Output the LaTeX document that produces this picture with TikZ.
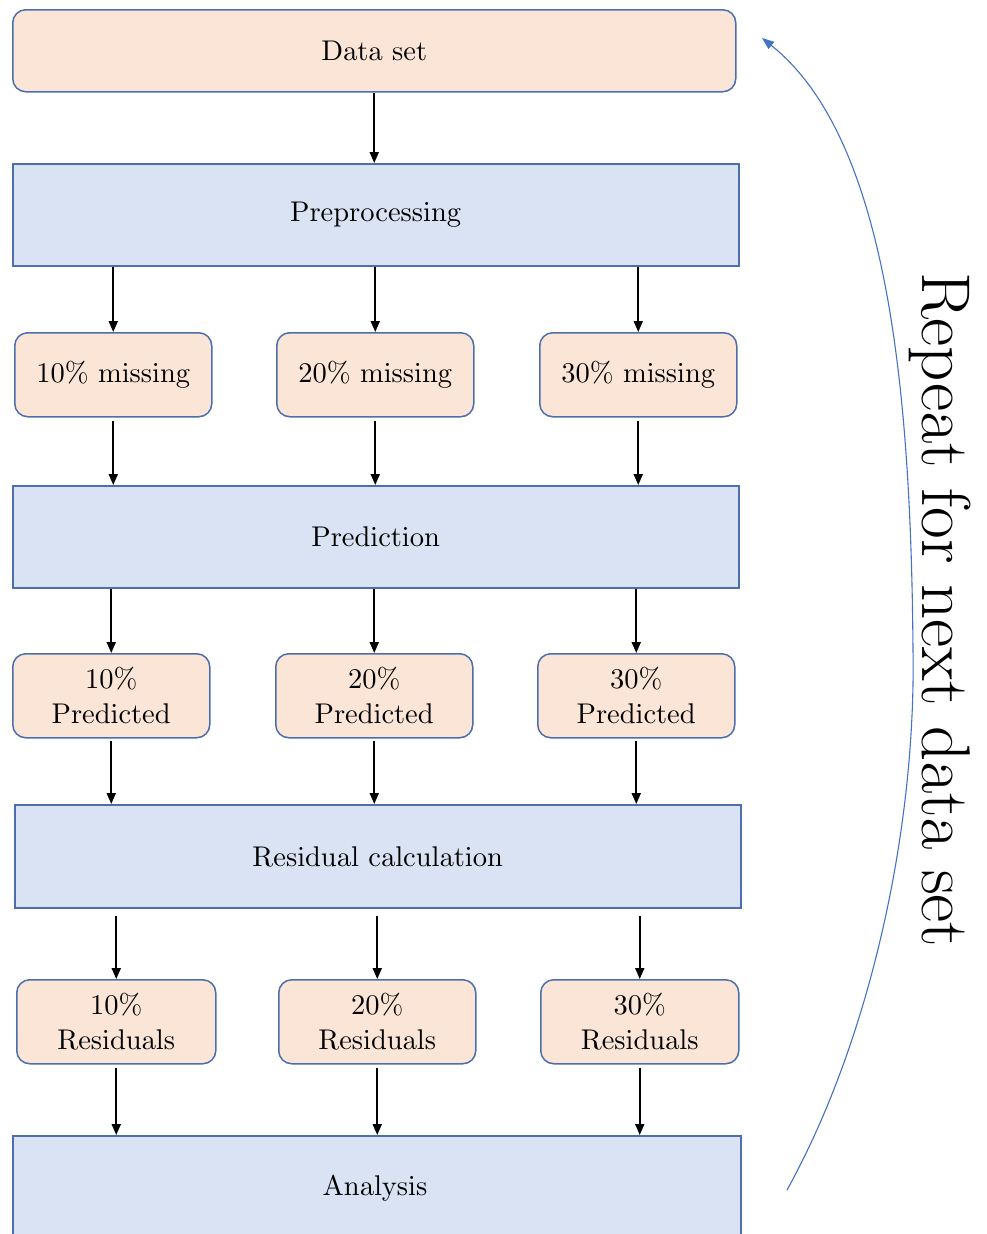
\documentclass[tikz,border=0pt]{standalone}
\usetikzlibrary{arrows.meta}
\font\boxfnt=cmr10 at 28.5pt
\font\repfnt=cmr17 at 69pt
\definecolor{peach}{HTML}{FBE5D6}
\definecolor{lblue}{HTML}{DAE3F3}
\definecolor{bord}{RGB}{76,110,172}
\definecolor{curveblue}{RGB}{68,114,196}
\begin{document}
\begin{tikzpicture}[x=1pt,y=-1pt,
  txt/.style={font=\fontsize{28.5}{35}\selectfont\boxfnt, align=center, inner sep=0pt},
  pbox/.style={txt, draw=bord, line width=1.5pt, fill=peach, rounded corners=13pt, anchor=north west},
  bbox/.style={txt, draw=bord, line width=1.5pt, fill=lblue, anchor=north west},
  arr/.style={draw=black, line width=2pt, -{Triangle[length=11pt,width=9pt]}},
  loop/.style={draw=curveblue, line width=1.1pt, -{Triangle[length=12pt,width=9pt]}}]
\useasboundingbox (0,0) rectangle (987,1234);

\node[pbox, minimum width=723pt, minimum height=82pt] (data) at (12,9) {Data set};
\node[bbox, minimum width=726pt, minimum height=102pt] (pre) at (12,163) {Preprocessing};

\node[pbox, minimum width=197pt, minimum height=84pt] (m1) at (14,332) {10\% missing};
\node[pbox, minimum width=197pt, minimum height=84pt] (m2) at (276,332) {20\% missing};
\node[pbox, minimum width=197pt, minimum height=84pt] (m3) at (539,332) {30\% missing};

\node[bbox, minimum width=726pt, minimum height=102pt] (pred) at (12,485) {Prediction};

\node[pbox, minimum width=197pt, minimum height=84pt] (p1) at (12,653) {10\%\\Predicted};
\node[pbox, minimum width=197pt, minimum height=84pt] (p2) at (275,653) {20\%\\Predicted};
\node[pbox, minimum width=197pt, minimum height=84pt] (p3) at (537,653) {30\%\\Predicted};

\node[bbox, minimum width=726pt, minimum height=103pt] (res) at (14,804) {Residual calculation};

\node[pbox, minimum width=199pt, minimum height=84pt] (r1) at (16,979) {10\%\\Residuals};
\node[pbox, minimum width=197pt, minimum height=84pt] (r2) at (278,979) {20\%\\Residuals};
\node[pbox, minimum width=198pt, minimum height=84pt] (r3) at (540,979) {30\%\\Residuals};

\node[bbox, minimum width=728pt, minimum height=110pt, text depth=0pt] (ana) at (12,1135) {};
\node[txt] (anat) at (375,1188) {Analysis};

\node[inner sep=0pt, font=\repfnt, rotate=-90] (rep) at (940,610) {Repeat for next data set};

% arrows
\draw[arr] (data.south) -- (data.south |- pre.north);
\foreach \i in {1,2,3}{
  \draw[arr] (m\i.north |- pre.south) -- (m\i.north);
  \draw[arr, shorten <=3pt] (m\i.south) -- (m\i.south |- pred.north);
  \draw[arr] (p\i.north |- pred.south) -- (p\i.north);
  \draw[arr, shorten <=2pt] (p\i.south) -- (p\i.south |- res.north);
  \draw[arr, shorten <=7pt] (r\i.north |- res.south) -- (r\i.north);
  \draw[arr, shorten <=3pt] (r\i.south) -- (r\i.south |- ana.north);
}

% loop back curve
\coordinate (lstart) at (787,1190);
\coordinate (lmid) at (913,650);
\coordinate (lend) at (762,38);
\draw[loop] (lstart) .. controls (870,1040) and (916,830) .. (lmid)
  .. controls (911,400) and (890,140) .. (lend);
\end{tikzpicture}
\end{document}
